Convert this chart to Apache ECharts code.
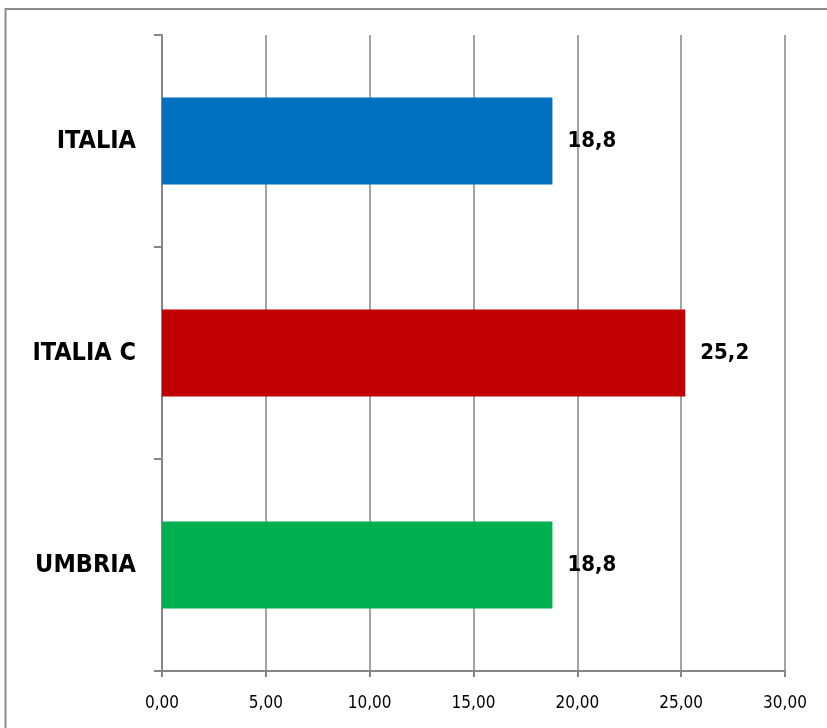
<!DOCTYPE html>
<html><head><meta charset="utf-8">
<script src="https://cdn.jsdelivr.net/npm/echarts@6/dist/echarts.min.js"></script>
<style>html,body{margin:0;padding:0;background:#fff}#c{width:827px;height:728px}</style>
</head><body><div id="c"></div>
<script>
var categories = ['ITALIA', 'ITALIA C', 'UMBRIA'];
var values = [18.8, 25.2, 18.8];
var colors = ['#0070C0', '#C00000', '#00B050'];
var xTicks = [0, 5, 10, 15, 20, 25, 30];

var chart = echarts.init(document.getElementById('c'), null, {renderer: 'canvas'});
chart.setOption({
  animation: false,
  backgroundColor: '#fff',
  graphic: [{
    type: 'polyline', silent: true,
    shape: {points: [[5.5, 760], [5.5, 9], [900, 9]]},
    style: {stroke: '#8c8c8c', lineWidth: 2, fill: null}
  }],
  grid: {left: 162, right: 42, top: 35, bottom: 57, containLabel: false},
  xAxis: {
    type: 'value', min: xTicks[0], max: xTicks[xTicks.length - 1], interval: 5,
    axisLine: {show: true, lineStyle: {color: '#868686', width: 2}},
    axisTick: {show: true, length: 6, lineStyle: {color: '#868686', width: 2}},
    splitLine: {show: true, lineStyle: {color: '#868686', width: 1.5}},
    axisLabel: {
      margin: 24, color: '#000', fontSize: 17, fontFamily: 'DejaVu Sans Condensed',
      formatter: function (v) { return v.toFixed(2).replace('.', ','); }
    }
  },
  yAxis: {
    type: 'category', data: categories, inverse: true,
    axisLine: {show: true, lineStyle: {color: '#868686', width: 2}},
    axisTick: {show: true, length: 8, inside: false, lineStyle: {color: '#868686', width: 2}},
    axisLabel: {margin: 26, color: '#000', fontSize: 25, fontWeight: 'bold', fontFamily: 'DejaVu Sans Condensed'}
  },
  series: [{
    type: 'bar', barCategoryGap: '59%',
    data: values.map(function (v, i) { return {value: v, itemStyle: {color: colors[i]}}; }),
    label: {
      show: true, position: 'right', distance: 15, color: '#000', fontSize: 22, fontWeight: 'bold',
      fontFamily: 'DejaVu Sans Condensed',
      formatter: function (p) { return p.value.toFixed(1).replace('.', ','); }
    }
  }]
});
</script></body></html>
